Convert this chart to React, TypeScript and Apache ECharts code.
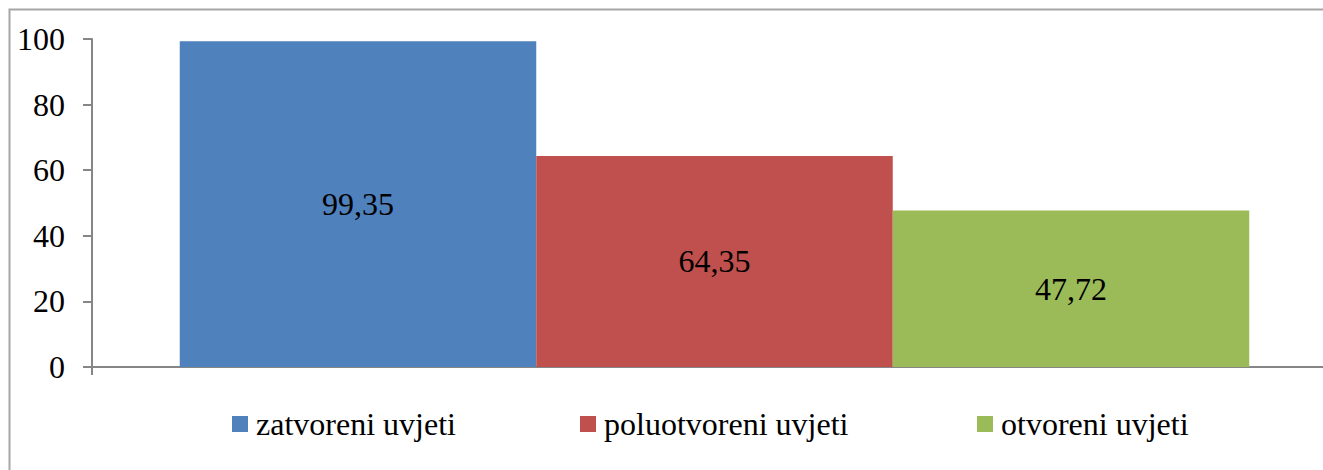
import React, { useEffect, useRef } from "react";
import * as echarts from "echarts";

const categories = [""];
const seriesNames = ["zatvoreni uvjeti", "poluotvoreni uvjeti", "otvoreni uvjeti"];
const seriesValues = [99.35, 64.35, 47.72];
const seriesColors = ["#4F81BD", "#C0504D", "#9BBB59"];
const yTicks = { min: 0, max: 100, interval: 20 };
const legendLefts = [232, 580, 977];

const FONT = "'Liberation Serif', 'Times New Roman', serif";

export default function App() {
  const ref = useRef<HTMLDivElement>(null);
  useEffect(() => {
    if (!ref.current) return;
    const chart = echarts.init(ref.current, undefined, { renderer: "svg" });
    chart.setOption({
      animation: false,
      backgroundColor: "#ffffff",
      textStyle: { fontFamily: FONT },
      graphic: [
        {
          type: "rect",
          shape: { x: 9.5, y: 9.5, width: 1330, height: 480 },
          style: { fill: "none", stroke: "#a6a6a6", lineWidth: 2 },
          silent: true,
        },
      ],
      grid: { left: 92, right: 8, top: 39, bottom: 103, containLabel: false },
      legend: seriesNames.map((name, i) => ({
        left: legendLefts[i],
        top: 408,
        padding: 0,
        itemWidth: 16,
        itemHeight: 16,
        icon: "rect",
        textStyle: { fontFamily: FONT, fontSize: 32, color: "#000", padding: [0, 0, 0, 3] },
        data: [name],
      })),
      xAxis: {
        type: "category",
        data: categories,
        axisLine: { show: true, lineStyle: { color: "#868686", width: 2 } },
        axisTick: { show: true, length: 8, lineStyle: { color: "#868686", width: 2 } },
        axisLabel: { show: false },
        splitLine: { show: false },
      },
      yAxis: {
        type: "value",
        min: yTicks.min,
        max: yTicks.max,
        interval: yTicks.interval,
        axisLine: { show: true, lineStyle: { color: "#868686", width: 2 } },
        axisTick: { show: true, length: 9, lineStyle: { color: "#868686", width: 2 } },
        axisLabel: { fontFamily: FONT, fontSize: 32, color: "#000", margin: 27 },
        splitLine: { show: false },
      },
      series: seriesNames.map((name, i) => ({
        name,
        type: "bar",
        barWidth: 356.5,
        barGap: "0%",
        itemStyle: { color: seriesColors[i] },
        label: {
          show: true,
          position: "inside",
          fontFamily: FONT,
          fontSize: 32,
          color: "#000",
          formatter: (p: any) => String(p.value.toFixed(2)).replace(".", ","),
        },
        data: [seriesValues[i]],
      })),
    });
    return () => chart.dispose();
  }, []);
  return (
    <div style={{ position: "absolute", left: 0, top: 0, width: 1323, height: 470, overflow: "hidden", background: "#fff" }}>
      <div ref={ref} style={{ width: 1345, height: 470 }} />
    </div>
  );
}
